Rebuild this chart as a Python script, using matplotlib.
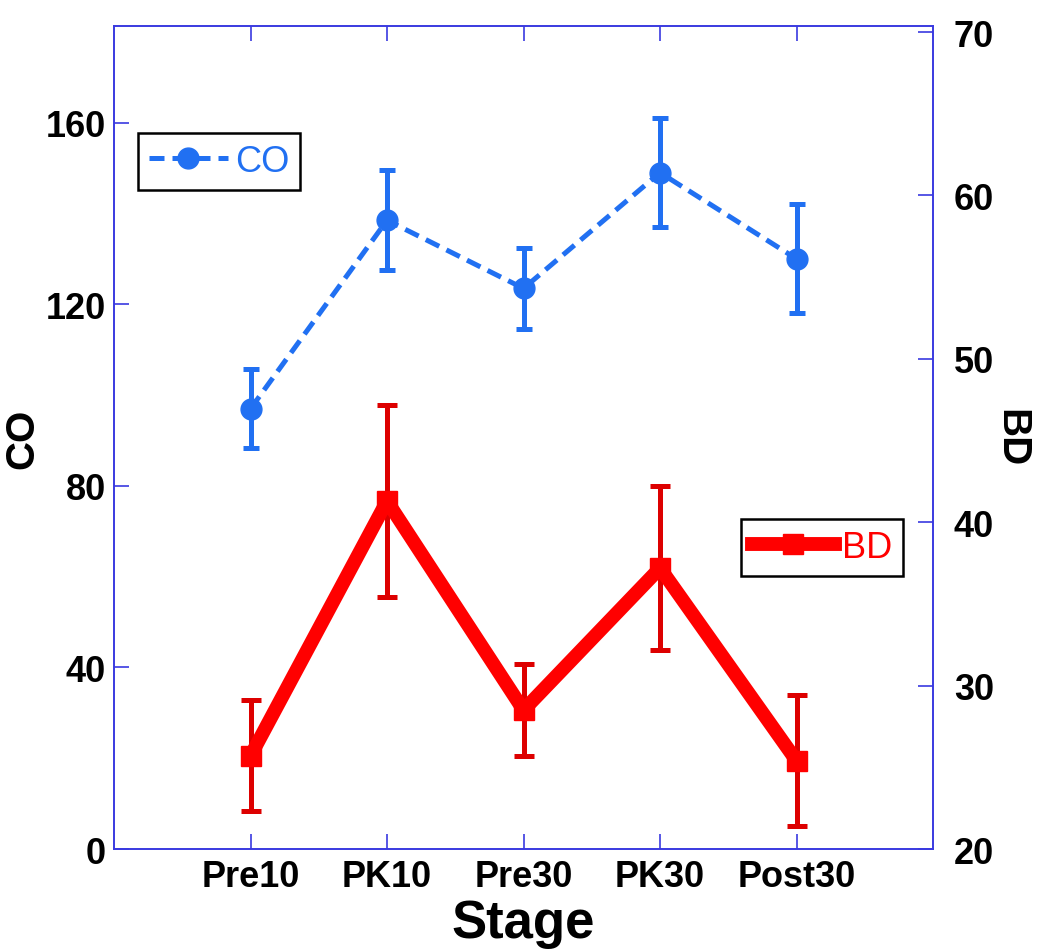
import matplotlib.pyplot as plt
from matplotlib.lines import Line2D
import numpy as np

plt.rcParams['font.family'] = ['Liberation Sans', 'DejaVu Sans']

# data
stages = ['Pre10', 'PK10', 'Pre30', 'PK30', 'Post30']
co_mean = [97, 138.5, 123.5, 149, 130]
co_err = [8.7, 11, 9, 12, 12]
bd_mean = [25.7, 41.3, 28.5, 37.2, 25.4]
bd_err = [3.4, 5.9, 2.8, 5.0, 4.0]
co_ticks = [0, 40, 80, 120, 160]
bd_ticks = [20, 30, 40, 50, 60, 70]

blue = '#2170f2'
red = '#ff0000'
dark_red = '#dd0000'
spine = '#3a3ae0'

x = np.arange(1, len(stages) + 1)

fig = plt.figure(figsize=(10.5, 9.53), dpi=100)
ax = fig.add_axes([0.1086, 0.108, 0.78, 0.8637])
ax2 = ax.twinx()

co_style = dict(color=blue, linewidth=3.6, linestyle=(0, (3, 1.6)),
                marker='o', markersize=15)
bd_style = dict(color=red, linewidth=10, marker='s', markersize=14)

# CO on the left axis
ax.errorbar(x, co_mean, yerr=co_err, ecolor=blue, elinewidth=3.6,
            capsize=6, capthick=3.6, **co_style)

# BD on the right axis
ax2.errorbar(x, bd_mean, yerr=bd_err, ecolor=dark_red, elinewidth=3.6,
             capsize=7, capthick=3.6, **bd_style)

ax.set_xlim(0, 6)
ax.set_ylim(0, 181.3)
ax2.set_ylim(20, 70.37)
ax.set_xticks(x)
ax.set_xticklabels(stages)
ax.set_yticks(co_ticks)
ax2.set_yticks(bd_ticks)

for a in (ax, ax2):
    for s in a.spines.values():
        s.set_color(spine)
        s.set_linewidth(1.2)
    a.tick_params(direction='in', length=11, width=1.2, color=spine,
                  labelsize=26, pad=6)
    for lab in a.get_xticklabels() + a.get_yticklabels():
        lab.set_fontweight('bold')
ax.tick_params(axis='x', top=True, pad=7)
ax.tick_params(axis='y', right=False)
ax2.tick_params(axis='y', pad=15)

ax.set_xlabel('Stage', fontsize=38, fontweight='bold', labelpad=3)
ax.set_ylabel('CO', fontsize=29, fontweight='bold', labelpad=3)
ax2.set_ylabel('BD', fontsize=29, fontweight='bold', rotation=270, labelpad=26)

h_co = Line2D([], [], **co_style)
h_bd = Line2D([], [], **bd_style)

leg1 = ax.legend([h_co], ['CO'], loc='upper left', bbox_to_anchor=(0.029, 0.870),
                 borderaxespad=0, fontsize=26, handlelength=2.2, handletextpad=0.2,
                 fancybox=False, edgecolor='black', framealpha=1, borderpad=0.3)
leg1.get_frame().set_linewidth(1.8)
for t in leg1.get_texts():
    t.set_color(blue)

leg2 = ax2.legend([h_bd], ['BD'], loc='upper left', bbox_to_anchor=(0.7656, 0.401),
                  borderaxespad=0, fontsize=26, handlelength=2.3, handletextpad=0.2,
                  fancybox=False, edgecolor='black', framealpha=1, borderpad=0.3)
leg2.get_frame().set_linewidth(1.8)
for t in leg2.get_texts():
    t.set_color(red)

fig.savefig('out.png', dpi=100)
